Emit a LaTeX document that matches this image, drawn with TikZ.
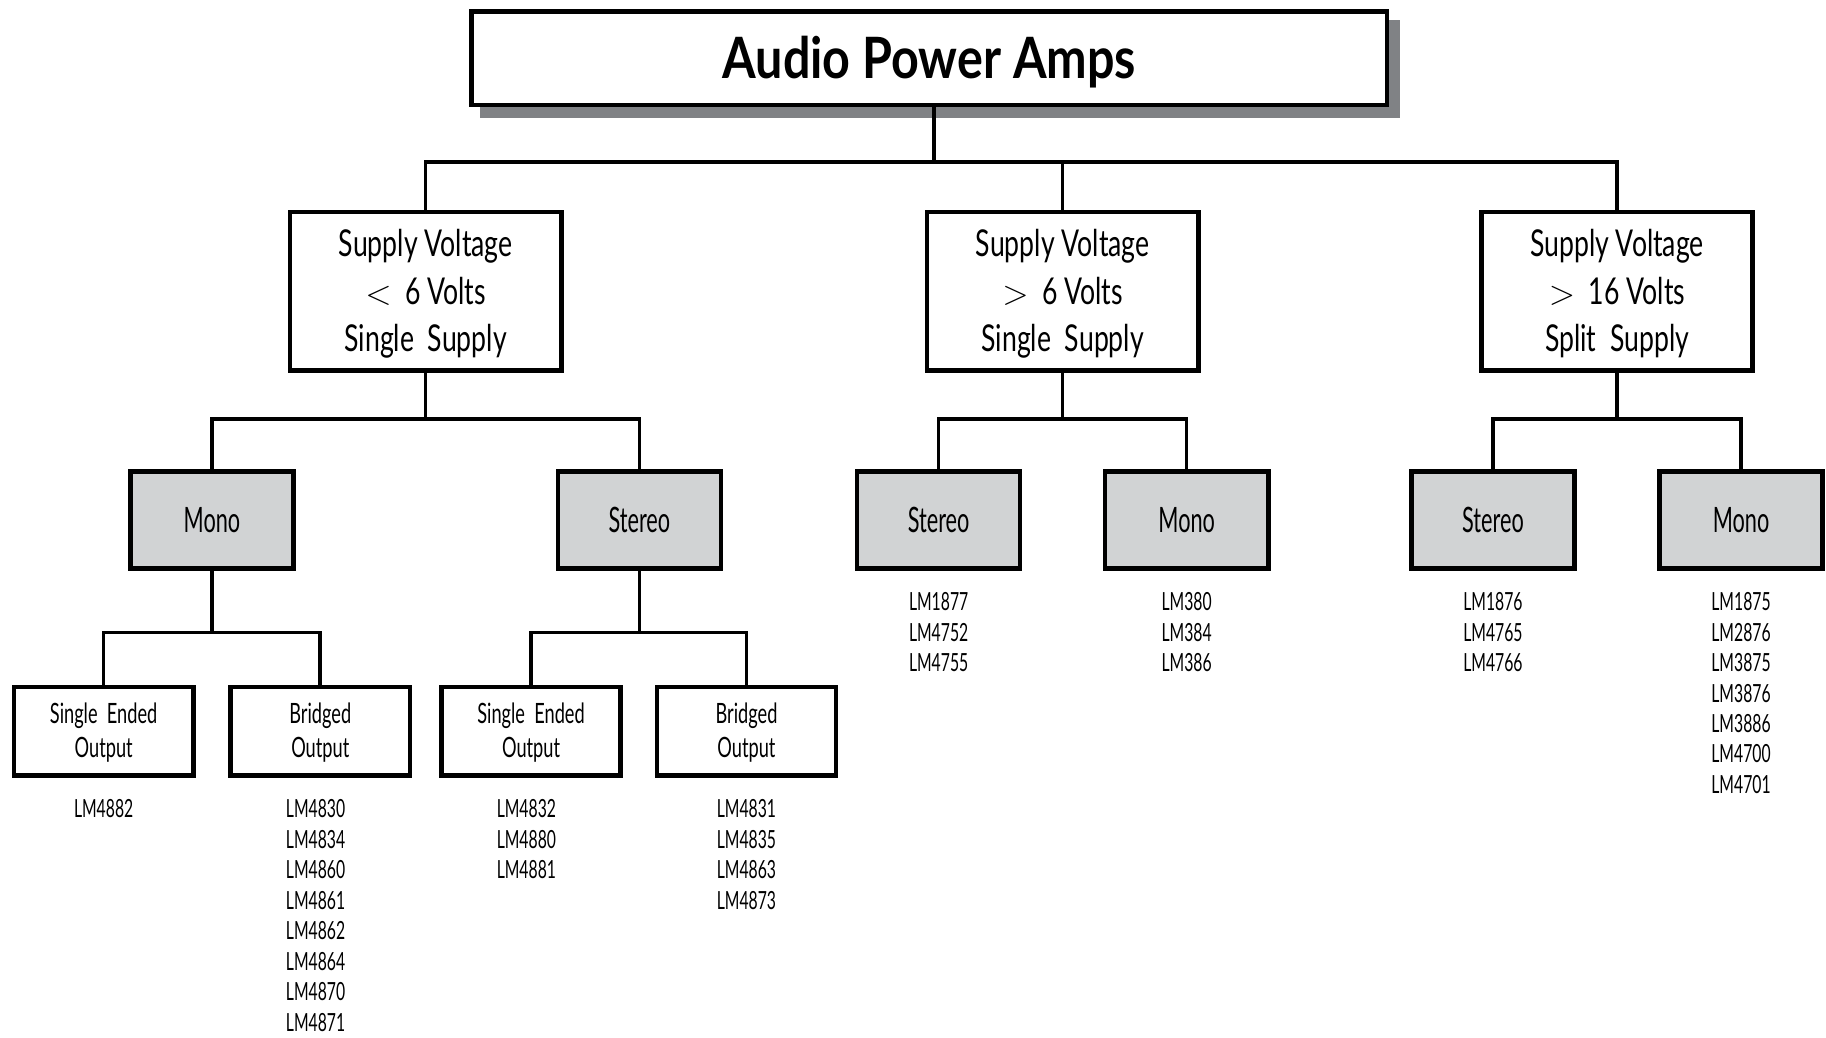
\documentclass[tikz,border=0pt]{standalone}
\usepackage{fontspec}
\setmainfont{Lato}[FakeStretch=0.72]
\newfontfamily\titlefont{Lato}[FakeStretch=0.85]
\newfontfamily\supfont{Lato}[FakeStretch=0.72]
\newfontfamily\chanfont{Lato}[FakeStretch=0.62]
\newfontfamily\outfont{Lato}[FakeStretch=0.65]
\newfontfamily\listfont{Lato}[FakeStretch=0.63]
\newcommand{\lowered}[2]{\raisebox{-#1}[\height][\depth]{#2}}
\begin{document}
\begin{tikzpicture}[x=0.5823pt,y=-0.5823pt,
  conn/.style={line width=1.8pt, line join=miter},
  basebox/.style={draw=black, line width=2.3pt, inner sep=0pt, align=center},
  topbox/.style={basebox, fill=white, minimum width=786*0.5823pt, minimum height=80*0.5823pt,
     font=\titlefont\fontsize{28.5}{30}\selectfont\bfseries},
  supbox/.style={basebox, fill=white, minimum width=233*0.5823pt, minimum height=136*0.5823pt,
     font=\supfont\fontsize{18.5}{23.8}\selectfont},
  chanbox/.style={basebox, fill=chanfill, minimum width=140*0.5823pt, minimum height=83*0.5823pt,
     font=\chanfont\fontsize{17.5}{20}\selectfont},
  outbox/.style={basebox, fill=white, minimum width=154*0.5823pt, minimum height=76*0.5823pt,
     font=\outfont\fontsize{14}{17}\selectfont},
  partlist/.style={anchor=north, align=center, inner sep=0pt, font=\listfont\fontsize{12.5}{15.22}\selectfont}
]
\definecolor{chanfill}{RGB}{209,211,212}
\definecolor{shadowgray}{RGB}{128,130,133}
\useasboundingbox (0,0) rectangle (1568,891.3);
% title shadow
\fill[shadowgray] (412,17) rectangle (1202,101);
\node[topbox] (top) at (798,50) {\lowered{1.8pt}{Audio Power Amps}};
% level 2
\node[supbox] (s1) at (365.5,250) {\lowered{1.8pt}{\begin{tabular}{@{}c@{}}Supply Voltage\\$<$\ \ 6 Volts\\Single\ \ Supply\end{tabular}}};
\node[supbox] (s2) at (912.5,250) {\lowered{1.8pt}{\begin{tabular}{@{}c@{}}Supply Voltage\\$>$\ \ 6 Volts\\Single\ \ Supply\end{tabular}}};
\node[supbox] (s3) at (1388.5,250) {\lowered{1.8pt}{\begin{tabular}{@{}c@{}}Supply Voltage\\$>$\ \ 16 Volts\\Split\ \ Supply\end{tabular}}};
\coordinate (b0) at (802,139);
\draw[conn] (top.south -| b0) -- (b0);
\draw[conn] (s1.north) |- (b0);
\draw[conn] (s3.north) |- (b0);
\draw[conn] (s2.north) -- (s2.north |- b0);
% level 3
\node[chanbox] (m1) at (182,446.5) {Mono};
\node[chanbox] (st1) at (549,446.5) {Stereo};
\node[chanbox] (st2) at (806,446.5) {Stereo};
\node[chanbox] (m2) at (1019,446.5) {Mono};
\node[chanbox] (st3) at (1282,446.5) {Stereo};
\node[chanbox] (m3) at (1495,446.5) {Mono};
\coordinate (b1) at (365.5,360);
\coordinate (b2) at (912.5,360);
\coordinate (b3) at (1388.5,360);
\draw[conn] (s1.south) -- (b1);
\draw[conn] (m1.north) |- (b1) -| (st1.north);
\draw[conn] (s2.south) -- (b2);
\draw[conn] (st2.north) |- (b2) -| (m2.north);
\draw[conn] (s3.south) -- (b3);
\draw[conn] (st3.north) |- (b3) -| (m3.north);
% level 4
\node[outbox] (o1) at (89,628) {\lowered{1.2pt}{\begin{tabular}{@{}c@{}}Single\ \ Ended\\Output\end{tabular}}};
\node[outbox] (o2) at (275,628) {\lowered{1.2pt}{\begin{tabular}{@{}c@{}}Bridged\\Output\end{tabular}}};
\node[outbox] (o3) at (456,628) {\lowered{1.2pt}{\begin{tabular}{@{}c@{}}Single\ \ Ended\\Output\end{tabular}}};
\node[outbox] (o4) at (641,628) {\lowered{1.2pt}{\begin{tabular}{@{}c@{}}Bridged\\Output\end{tabular}}};
\coordinate (b4) at (182,543);
\coordinate (b5) at (549,543);
\draw[conn] (m1.south) -- (b4);
\draw[conn] (o1.north) |- (b4) -| (o2.north);
\draw[conn] (st1.south) -- (b5);
\draw[conn] (o3.north) |- (b5) -| (o4.north);
% part lists
\node[partlist] (l1) at (89,686.5) {LM4882};
\node[partlist] (l2) at (271,686.5) {LM4830\\LM4834\\LM4860\\LM4861\\LM4862\\LM4864\\LM4870\\LM4871};
\node[partlist] (l3) at (452,686.5) {LM4832\\LM4880\\LM4881};
\node[partlist] (l4) at (641,686.5) {LM4831\\LM4835\\LM4863\\LM4873};
\node[partlist] (l5) at (806,508.5) {LM1877\\LM4752\\LM4755};
\node[partlist] (l6) at (1019,508.5) {LM380\\LM384\\LM386};
\node[partlist] (l7) at (1282,508.5) {LM1876\\LM4765\\LM4766};
\node[partlist] (l8) at (1495,508.5) {LM1875\\LM2876\\LM3875\\LM3876\\LM3886\\LM4700\\LM4701};
\end{tikzpicture}
\end{document}
